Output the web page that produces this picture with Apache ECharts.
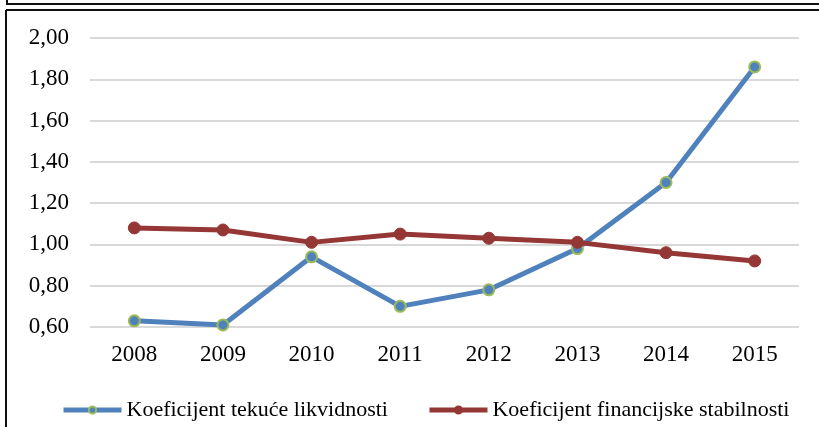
<!DOCTYPE html>
<html>
<head>
<meta charset="utf-8">
<script src="https://cdn.jsdelivr.net/npm/echarts@6/dist/echarts.min.js"></script>
<style>
  html, body { margin: 0; padding: 0; background: #fff; }
  #chart { width: 819px; height: 427px; }
</style>
</head>
<body>
<div id="chart"></div>
<script>
// podaci
const years = ['2008', '2009', '2010', '2011', '2012', '2013', '2014', '2015']
const likvidnost = [0.63, 0.61, 0.94, 0.70, 0.78, 0.98, 1.30, 1.86]
const stabilnost = [1.08, 1.07, 1.01, 1.05, 1.03, 1.01, 0.96, 0.92]
const seriesNames = ['Koeficijent tekuće likvidnosti', 'Koeficijent financijske stabilnosti']

const font = "'Liberation Serif', 'Times New Roman', serif"
const chart = echarts.init(document.getElementById('chart'))

const option = {
  animation: false,
  backgroundColor: '#fff',
  grid: { left: 90, right: 20, top: 38, bottom: 100 },
  xAxis: {
    type: 'category',
    data: years,
    boundaryGap: true,
    axisLine: { show: false },
    axisTick: { show: false },
    axisLabel: { color: '#000', fontFamily: font, fontSize: 23, margin: 16 }
  },
  yAxis: {
    type: 'value',
    min: 0.6,
    max: 2.0,
    interval: 0.2,
    axisLine: { show: false },
    axisTick: { show: false },
    splitLine: { lineStyle: { color: '#d9d9d9', width: 2 } },
    axisLabel: {
      color: '#000', fontFamily: font, fontSize: 23, margin: 21,
      formatter: v => v.toFixed(2).replace('.', ',')
    }
  },
  legend: {
    left: 56,
    top: 394,
    itemWidth: 58,
    itemHeight: 9,
    itemGap: 39,
    lineStyle: { width: 5 },
    textStyle: { color: '#000', fontFamily: font, fontSize: 22 },
    data: seriesNames
  },
  series: [
    {
      name: seriesNames[0],
      type: 'line',
      data: likvidnost,
      symbol: 'circle',
      symbolSize: 11,
      lineStyle: { color: '#4f81bd', width: 5 },
      itemStyle: { color: '#4f81bd', borderColor: '#9bbb59', borderWidth: 2 }
    },
    {
      name: seriesNames[1],
      type: 'line',
      data: stabilnost,
      symbol: 'circle',
      symbolSize: 12,
      lineStyle: { color: '#953735', width: 5 },
      itemStyle: { color: '#953735', borderColor: '#953735', borderWidth: 1 }
    }
  ],
  graphic: [
    { type: 'line', shape: { x1: 7, y1: 0, x2: 7, y2: 4 }, style: { stroke: '#111', lineWidth: 2 } },
    { type: 'line', shape: { x1: 6, y1: 4, x2: 819, y2: 4 }, style: { stroke: '#111', lineWidth: 2 } },
    { type: 'line', shape: { x1: 6, y1: 10, x2: 819, y2: 10 }, style: { stroke: '#111', lineWidth: 2 } },
    { type: 'line', shape: { x1: 6, y1: 10, x2: 6, y2: 427 }, style: { stroke: '#111', lineWidth: 2 } }
  ]
}

chart.setOption(option)
</script>
</body>
</html>
